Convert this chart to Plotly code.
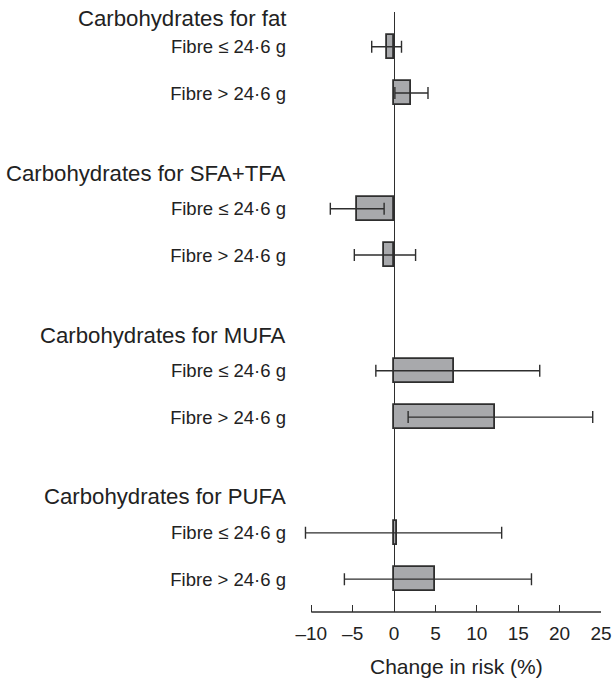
import plotly.graph_objects as go

# ---- data ----
groups = ["Carbohydrates for fat", "Carbohydrates for SFA+TFA",
          "Carbohydrates for MUFA", "Carbohydrates for PUFA"]
row_labels = ["Fibre ≤ 24·6 g", "Fibre > 24·6 g"] * 4
estimate = [-0.8, 2.1, -4.5, -1.2, 7.2, 12.2, 0.3, 4.9]
ci_lower = [-2.7, 0.1, -7.7, -4.8, -2.2, 1.7, -10.7, -6.0]
ci_upper = [0.9, 4.1, -1.2, 2.6, 17.6, 24.0, 13.0, 16.6]
x_ticks = [-10, -5, 0, 5, 10, 15, 20, 25]

# ---- layout helpers ----
row_pos = [0, 1, 3.5, 4.5, 7, 8, 10.5, 11.5]
header_pos = [-0.6, 2.74, 6.24, 9.72]

FONT = "Liberation Sans, Arial, Helvetica, sans-serif"
DARK = "#2e2e2e"

err_plus = [u - e for u, e in zip(ci_upper, estimate)]
err_minus = [e - l for e, l in zip(estimate, ci_lower)]

fig = go.Figure()
fig.add_trace(go.Bar(
    x=estimate, y=row_pos, orientation="h", width=0.52,
    marker=dict(color="#a8a9ac", line=dict(color=DARK, width=1.8)),
    error_x=dict(type="data", symmetric=False, array=err_plus, arrayminus=err_minus,
                 color=DARK, thickness=1.4, width=6),
    hoverinfo="x+y", showlegend=False,
))

annotations = []
for g, y in zip(groups, header_pos):
    annotations.append(dict(text=g, x=0, xref="paper", y=y, yref="y",
                            xanchor="right", yanchor="middle", xshift=-15,
                            showarrow=False, font=dict(size=22.2, color="#222", family=FONT)))
annotations.append(dict(text="Change in risk (%)", x=7.5, xref="x", y=0, yref="paper",
                        xanchor="center", yanchor="middle", yshift=-54,
                        showarrow=False, font=dict(size=21, color="#222", family=FONT)))

fig.update_layout(
    width=612, height=678,
    margin=dict(l=303, r=11, t=12, b=66),
    paper_bgcolor="white", plot_bgcolor="white",
    font=dict(family=FONT, color="#222"),
    bargap=0,
    annotations=annotations,
    shapes=[dict(type="line", xref="x", yref="paper", x0=-10, x1=25, y0=0, y1=0,
                 line=dict(color=DARK, width=1.3))],
    xaxis=dict(range=[-11, 25], tickvals=x_ticks,
               ticktext=[("–" + str(-t)) if t < 0 else str(t) for t in x_ticks],
               ticks="inside", ticklen=7, tickwidth=1.3, tickcolor=DARK,
               ticklabelstandoff=8, automargin=False,
               showline=False, showgrid=False,
               zeroline=True, zerolinecolor=DARK, zerolinewidth=1.3,
               tickfont=dict(size=19, color="#222", family=FONT)),
    yaxis=dict(range=[12.21, -0.75], tickvals=row_pos, ticktext=row_labels,
               ticks="", showline=False, showgrid=False, zeroline=False,
               ticklabelstandoff=16, automargin=False,
               tickfont=dict(size=18.5, color="#222", family=FONT)),
)

fig.write_html("out.html", config={"displayModeBar": False},
               post_script="document.body.style.margin='0';document.body.style.overflow='hidden';")
